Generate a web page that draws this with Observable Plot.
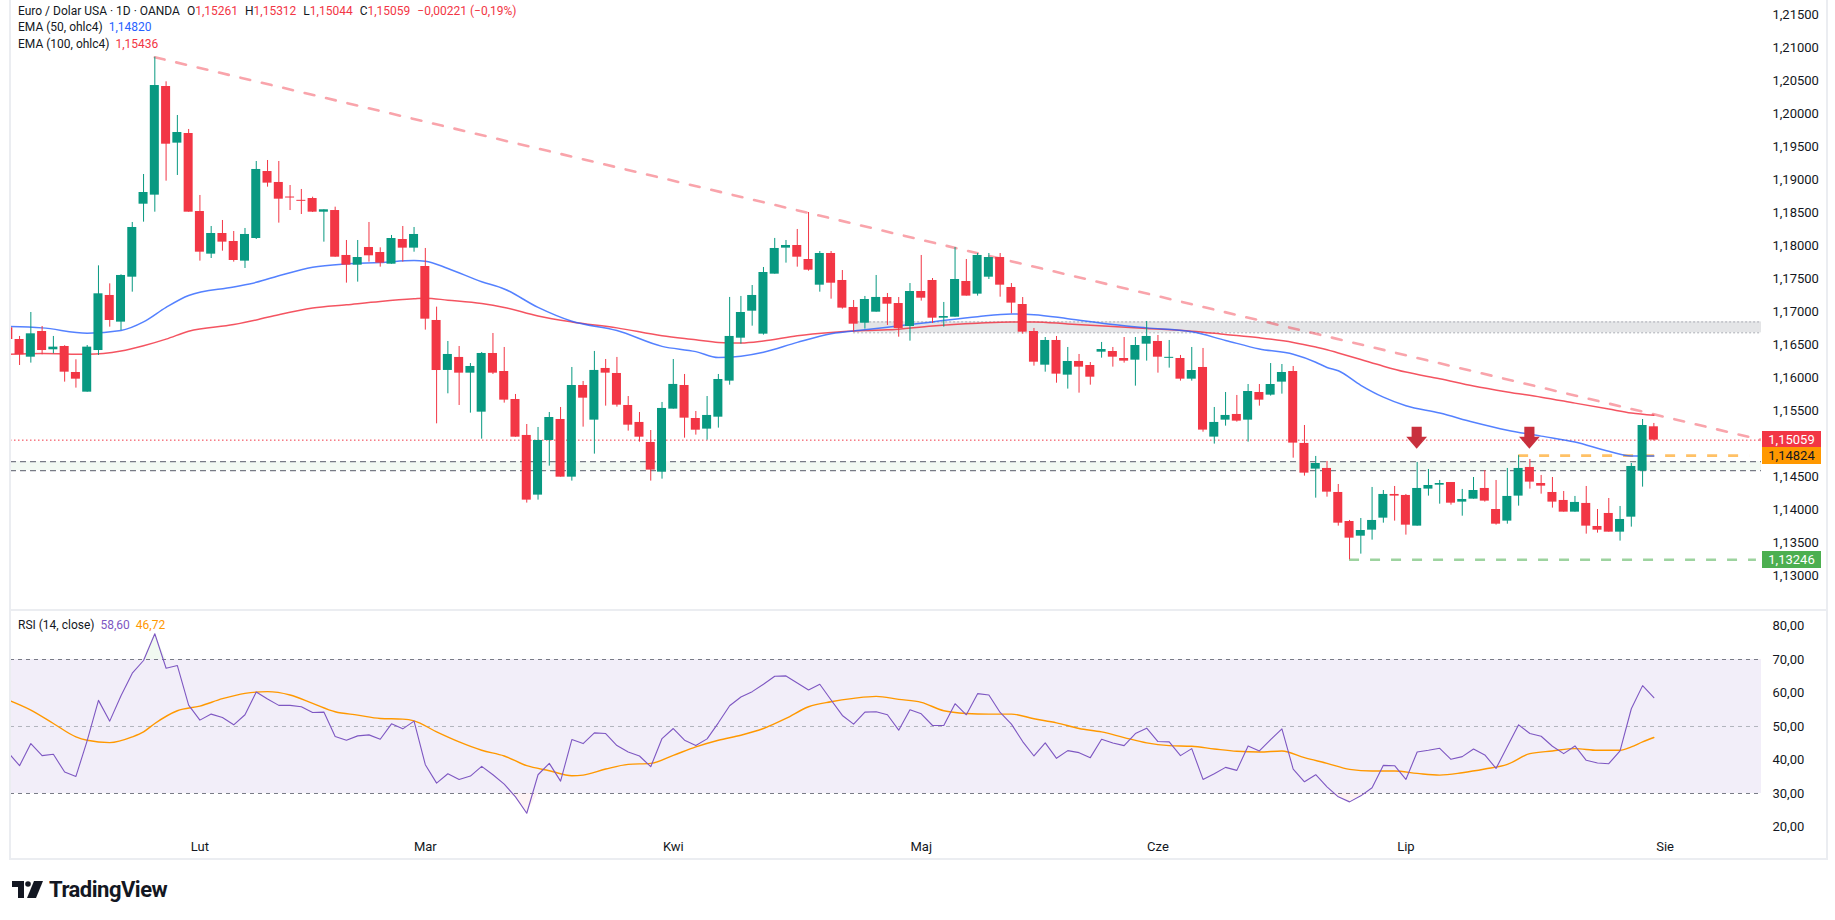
<!DOCTYPE html>
<html>
<head>
<meta charset="utf-8">
<script src="https://cdn.jsdelivr.net/npm/d3@7"></script>
<script src="https://cdn.jsdelivr.net/npm/@observablehq/plot@0.6"></script>
<style>
  body { margin: 0; background: #fff; font-family: Roboto, "Noto Sans", sans-serif; color: #131722; }
  #root { position: relative; width: 1835px; height: 920px; overflow: hidden; background: #fff; }
  #root svg { position: absolute; left: 0; }
  .line { position: absolute; left: 18px; font-size: 12px; line-height: 16px; white-space: nowrap; color: #131722; }
  .tag { position: absolute; left: 1762px; width: 59px; height: 17px; line-height: 17px; font-size: 13px; text-align: center; }
  .frame { position: absolute; background: #ebedf1; }
  .logo { position: absolute; left: 12px; top: 877px; display: flex; align-items: center; }
  .logo b { font-size: 22px; font-weight: 700; letter-spacing: -0.5px; margin-left: 5px; color: #131722; }
</style>
</head>
<body>
<div id="root"></div>
<script>
// ---------- DATA ----------
// daily candles, bar index 1..147
const opens = [
1.16761,1.16584,1.16316,1.16705,1.16428,1.16478,1.16084,1.15786,1.16417,1.17251,
1.16847,1.17528,1.18634,1.18771,1.20417,1.19559,1.19705,1.18523,1.17877,1.18190,
1.18069,1.17771,1.18114,1.19129,1.18963,1.18740,1.18690,1.18720,1.18513,1.18538,
1.17857,1.17710,1.17978,1.17902,1.17725,1.18099,1.17968,1.17690,1.16872,1.16115,
1.16312,1.16074,1.15483,1.16372,1.16099,1.15675,1.15130,1.14226,1.15054,1.15372,
1.14498,1.15887,1.15362,1.16145,1.16069,1.15584,1.15327,1.15024,1.14574,1.15529,
1.15887,1.15387,1.15226,1.15407,1.15953,1.16604,1.17013,1.16665,1.17574,1.17968,
1.18008,1.17796,1.17407,1.17887,1.17478,1.17069,1.16831,1.16998,1.17220,1.17129,
1.16781,1.17311,1.17478,1.16907,1.16922,1.17463,1.17271,1.17528,1.17826,1.17372,
1.17114,1.16705,1.16195,1.16569,1.16044,1.16251,1.16190,1.16392,1.16402,1.16296,
1.16271,1.16513,1.16554,1.16301,1.16296,1.15983,1.16160,1.15105,1.15362,1.15448,
1.15362,1.15781,1.15741,1.15938,1.16099,1.15009,1.14620,1.14630,1.14266,1.13826,
1.13604,1.13695,1.13877,1.14236,1.14221,1.13756,1.14317,1.14377,1.14417,1.14120,
1.14165,1.14327,1.14008,1.13832,1.14211,1.14645,1.14402,1.14266,1.14145,1.13968,
1.14100,1.13751,1.13948,1.13665,1.13892,1.14589,1.15261];
const highs = [
1.16796,1.16630,1.16993,1.16781,1.16630,1.16490,1.16276,1.16493,1.17700,1.17427,
1.17564,1.18357,1.19084,1.20861,1.20488,1.19978,1.19766,1.18766,1.18296,1.18387,
1.18220,1.18266,1.19281,1.19296,1.19281,1.18917,1.18857,1.18740,1.18549,1.18589,
1.18084,1.18084,1.18357,1.17973,1.18160,1.18296,1.18281,1.17963,1.17074,1.16554,
1.16478,1.16220,1.16387,1.16675,1.16463,1.15751,1.15296,1.15251,1.15478,1.15554,
1.16160,1.15948,1.16403,1.16281,1.16312,1.15720,1.15478,1.15205,1.15630,1.16281,
1.16054,1.15493,1.15720,1.16054,1.17221,1.17236,1.17402,1.17675,1.18115,1.18084,
1.18251,1.18508,1.17917,1.17917,1.17629,1.17175,1.17236,1.17554,1.17281,1.17220,
1.17432,1.17857,1.17508,1.17145,1.17978,1.17796,1.17887,1.17887,1.17887,1.17432,
1.17220,1.16751,1.16614,1.16630,1.16463,1.16357,1.16235,1.16539,1.16463,1.16614,
1.16614,1.16857,1.16645,1.16569,1.16342,1.16463,1.16448,1.15554,1.15781,1.15736,
1.15902,1.15902,1.16220,1.16205,1.16175,1.15281,1.14812,1.14736,1.14387,1.13842,
1.13872,1.14342,1.14296,1.14357,1.14236,1.14721,1.14614,1.14448,1.14417,1.14312,
1.14493,1.14599,1.14448,1.14630,1.14824,1.14766,1.14524,1.14493,1.14281,1.14206,
1.14357,1.14008,1.14175,1.14054,1.14705,1.15372,1.15312];
const lows = [
1.16544,1.16190,1.16226,1.16352,1.16367,1.15938,1.15847,1.15786,1.16342,1.16771,
1.16720,1.17301,1.18362,1.18513,1.18983,1.19069,1.18513,1.17771,1.17811,1.17922,
1.17756,1.17660,1.18099,1.18892,1.18347,1.18538,1.18478,1.18508,1.18059,1.17831,
1.17438,1.17453,1.17756,1.17680,1.17725,1.17756,1.17907,1.16726,1.15306,1.15761,
1.15584,1.15468,1.15074,1.16054,1.15620,1.15104,1.14105,1.14150,1.14665,1.14498,
1.14438,1.15256,1.14847,1.15574,1.15559,1.15195,1.15029,1.14438,1.14468,1.15529,
1.15089,1.15135,1.15059,1.15241,1.15892,1.16513,1.16786,1.16650,1.17574,1.17741,
1.17680,1.17619,1.17301,1.17195,1.17044,1.16695,1.16741,1.16998,1.16796,1.16619,
1.16559,1.17165,1.16826,1.16771,1.16922,1.17241,1.17241,1.17493,1.17225,1.16973,
1.16665,1.16180,1.16089,1.15922,1.15832,1.15771,1.15892,1.16301,1.16165,1.16226,
1.15877,1.16256,1.16074,1.16150,1.15953,1.15953,1.15180,1.14999,1.15271,1.15332,
1.15029,1.15574,1.15726,1.15756,1.14786,1.14514,1.14180,1.14195,1.13756,1.13246,
1.13332,1.13544,1.13801,1.13832,1.13620,1.13756,1.14211,1.14089,1.14074,1.13907,
1.14165,1.14120,1.13771,1.13786,1.14059,1.14317,1.14241,1.14029,1.13968,1.13968,
1.13635,1.13650,1.13665,1.13529,1.13741,1.14347,1.15044];
const closes = [
1.16584,1.16352,1.16670,1.16417,1.16468,1.16089,1.15983,1.16468,1.17276,1.16872,
1.17554,1.18281,1.18811,1.20432,1.19543,1.19720,1.18513,1.17907,1.18190,1.18059,
1.17781,1.18175,1.19160,1.18953,1.18710,1.18730,1.18680,1.18513,1.18549,1.17831,
1.17710,1.17826,1.17852,1.17741,1.18114,1.17968,1.18175,1.16892,1.16114,1.16357,
1.16074,1.16175,1.16372,1.16074,1.15665,1.15104,1.14150,1.15054,1.15402,1.14498,
1.15887,1.15695,1.16115,1.16074,1.15589,1.15286,1.15104,1.14605,1.15539,1.15903,
1.15392,1.15210,1.15433,1.15978,1.16630,1.16993,1.17251,1.17599,1.17963,1.18008,
1.17831,1.17634,1.17887,1.17437,1.17059,1.16816,1.17190,1.17221,1.17119,1.16751,
1.17311,1.17210,1.16907,1.16932,1.17493,1.17241,1.17857,1.17826,1.17407,1.17135,
1.16695,1.16240,1.16569,1.16059,1.16251,1.16165,1.16013,1.16432,1.16316,1.16256,
1.16493,1.16630,1.16316,1.16311,1.15983,1.16114,1.15211,1.15327,1.15433,1.15347,
1.15796,1.15665,1.15902,1.16084,1.15014,1.14559,1.14705,1.14271,1.13801,1.13574,
1.13690,1.13842,1.14236,1.14211,1.13771,1.14327,1.14372,1.14402,1.14104,1.14160,
1.14296,1.14135,1.13786,1.14206,1.14630,1.14423,1.14362,1.14120,1.13968,1.14115,
1.13756,1.13695,1.13665,1.13857,1.14660,1.15281,1.15059];
const changeText = "−0,00221 (−0,19%)";

// EMA 50 / EMA 100 (ohlc4)
const emaBars = [1,4,8,11,13,15,17,21,23,25,28,31,34,37,38,40,43,45,48,51,55,59,62,64,66,68,71,74,77,79,83,87,90,92,95,99,102,106,109,112,115,117,118,119,121,123,125,128,131,134,137,140,143,145,147];
const ema50Vals = [1.1678,1.1676,1.1668,1.1672,1.1685,1.1707,1.1725,1.1738,1.1745,1.1755,1.1768,1.1773,1.1775,1.1778,1.1777,1.1766,1.1746,1.1735,1.1707,1.1686,1.1672,1.1648,1.1640,1.1631,1.1633,1.1639,1.1654,1.1667,1.1673,1.1677,1.1685,1.1693,1.1697,1.1696,1.1690,1.1681,1.1676,1.1670,1.1657,1.1644,1.1636,1.1624,1.1616,1.1611,1.1589,1.1571,1.1558,1.1547,1.1533,1.1521,1.1512,1.1503,1.1489,1.1482,1.1482];
const ema100Vals = [1.1636,1.1637,1.1636,1.1641,1.1649,1.1659,1.1671,1.1681,1.1688,1.1696,1.1706,1.1711,1.1716,1.1720,1.1721,1.1718,1.1713,1.1707,1.1694,1.1685,1.1676,1.1664,1.1658,1.1654,1.1653,1.1656,1.1664,1.1669,1.1672,1.1673,1.1679,1.1683,1.1685,1.1685,1.1682,1.1678,1.1675,1.1671,1.1666,1.1661,1.1654,1.1647,1.1643,1.1638,1.1628,1.1618,1.1609,1.1599,1.1588,1.1579,1.1571,1.1562,1.1553,1.1547,1.15436];
const ema50Last = 1.14820, ema100Last = 1.15436;

// RSI (14, close), one value per bar
const rsiVals = [
42.2,38.3,44.9,41.3,41.7,36.4,35.1,45.8,57.8,51.6,
59.2,65.9,69.7,77.7,67.4,68.2,56.4,51.9,53.7,52.7,
50.5,53.5,60.3,58.2,56.3,56.3,55.9,54.2,54.3,47.0,
45.9,47.2,47.5,46.2,50.8,49.3,51.6,38.6,33.1,35.9,
34.2,35.2,38.1,35.6,32.8,29.0,24.1,35.6,39.0,33.7,
46.1,44.9,48.1,47.9,44.3,42.4,41.2,38.0,46.4,49.4,
45.9,44.3,46.3,51.1,56.2,58.8,60.4,62.6,65.0,65.1,
63.0,60.9,62.6,57.9,53.3,50.7,54.3,54.4,53.5,48.9,
55.0,53.8,50.3,50.3,56.8,53.5,59.8,59.4,54.2,50.7,
45.5,41.2,45.1,40.5,42.8,42.2,40.7,46.2,45.1,44.3,
47.9,49.5,45.5,45.4,41.3,43.4,34.2,35.9,37.8,36.9,
44.2,42.7,46.1,49.3,37.3,33.5,35.6,32.0,29.0,27.5,
29.3,31.7,38.4,38.3,34.2,42.4,42.9,43.5,40.2,41.0,
43.3,41.5,37.5,44.0,50.5,47.9,47.1,44.1,41.9,44.2,
39.9,39.1,38.9,42.7,55.3,62.2,58.6];
// RSI moving average, sampled
const rsiMaBars = [1,3,5,7,8,10,12,13,14,16,18,20,22,24,26,28,30,32,34,36,37,39,41,43,45,47,49,51,52,54,56,58,60,62,64,66,68,70,72,74,76,78,80,82,84,86,88,90,92,94,96,98,100,102,104,106,108,110,112,114,116,118,120,122,124,126,128,130,132,134,136,138,140,142,144,145,146,147];
const rsiMaVals = [57.9,54.9,50.9,46.9,45.9,45.2,46.9,48.4,50.9,54.7,56.1,58.3,59.9,60.4,59.4,56.9,54.4,53.4,52.4,52.2,51.7,48.4,45.4,42.9,41.2,38.3,36.8,35.3,35.5,37.3,38.7,39.0,41.4,43.9,45.9,47.4,49.4,52.4,55.9,57.4,58.4,59.0,58.1,57.2,54.7,53.9,53.7,53.7,52.3,51.1,49.4,48.4,46.7,45.1,44.3,44.1,43.3,42.6,42.4,42.7,40.7,39.0,37.2,36.7,36.7,36.0,35.5,36.2,37.3,38.7,41.9,42.7,43.4,42.9,42.9,43.9,45.4,46.72];

// annotations
const trendBars = [14, 156.6];
const trendVals = [1.2086, 1.1506];
const resistanceZone = [1.16685, 1.16850];
const resistanceStart = 76;
const supportBand = [1.14597, 1.14733];
const lastClose = 1.15059;
const orangeLevel = 1.14824, orangeBars = [135, 155.5];
const greenLevel = 1.13246, greenBars = [120, 156.1];
const arrowBars = [126, 136];
const arrowTips = [1.14921, 1.14921];

// axes
const priceTicks = [1.13,1.135,1.14,1.145,1.155,1.16,1.165,1.17,1.175,1.18,1.185,1.19,1.195,1.2,1.205,1.21,1.215];
const rsiTicks = [20,30,40,50,60,70,80];
const monthTicks = [18,38,60,82,103,125,148];
const monthLabels = ["Lut","Mar","Kwi","Maj","Cze","Lip","Sie"];

// ---------- DRAWING ----------
const root = document.getElementById("root");
const UP = "#089981", DN = "#f23645";
const fmt = (v, d) => v.toFixed(d).replace(".", ",");
const X0 = 1.1952, X1 = 156.55;
const Y0 = 1.124627, Y1 = 1.217202;
const PH = 611;
const ppx = (Y1 - Y0) / PH;
const AXF = 13;

const candles = opens.map((o, k) => {
  const c = closes[k];
  let b1 = Math.min(o, c), b2 = Math.max(o, c);
  if (b2 - b1 < ppx) { const m = (b1 + b2) / 2; b1 = m - ppx / 2; b2 = m + ppx / 2; }
  return {i: k + 1, o, h: highs[k], l: lows[k], c, b1, b2, up: c >= o};
});
const ups = candles.filter(d => d.up), dns = candles.filter(d => !d.up);
const ema50 = emaBars.map((b, k) => ({b, v: ema50Vals[k]}));
const ema100 = emaBars.map((b, k) => ({b, v: ema100Vals[k]}));
const trend = trendBars.map((b, k) => ({b, v: trendVals[k]}));
const arrows = arrowBars.map((b, k) => ({b, tip: arrowTips[k]}));
const heads = arrows.flatMap((d, k) => {
  const top = d.tip + 12 * ppx;
  return [{id: k, x: d.b - 0.92, y1: top, y2: top}, {id: k, x: d.b, y1: top, y2: d.tip}, {id: k, x: d.b + 0.92, y1: top, y2: top}];
});
const ARW = "#c9303d";

const price = Plot.plot({
  width: 1835, height: PH,
  marginLeft: 10, marginRight: 74, marginTop: 0, marginBottom: 0,
  x: {type: "linear", domain: [X0, X1], axis: null},
  y: {domain: [Y0, Y1], axis: null},
  style: {background: "transparent", fontFamily: "Roboto, sans-serif", fontSize: AXF + "px", color: "#131722"},
  marks: [
    Plot.rect([supportBand], {x1: () => X0, x2: () => X1, y1: d => d[0], y2: d => d[1], fill: "#4caf50", fillOpacity: 0.07}),
    Plot.ruleY(supportBand, {x1: () => X0, x2: () => X1, stroke: "#787b86", strokeWidth: 1.3, strokeDasharray: "6,4"}),
    Plot.rect([resistanceZone], {x1: () => resistanceStart, x2: () => X1, y1: d => d[0], y2: d => d[1], fill: "#787b86", fillOpacity: 0.2}),
    Plot.ruleY(resistanceZone, {x1: () => resistanceStart, x2: () => X1, stroke: "#a9abb3", strokeWidth: 1, strokeDasharray: "2,2"}),
    Plot.ruleY([lastClose], {x1: () => X0, x2: () => X1, stroke: DN, strokeWidth: 1, strokeDasharray: "1.5,2.5"}),
    Plot.line(trend, {x: "b", y: "v", stroke: DN, strokeOpacity: 0.45, strokeWidth: 2.6, strokeDasharray: "10,12", clip: true}),
    Plot.ruleY([orangeLevel], {x1: () => orangeBars[0], x2: () => orangeBars[1], stroke: "#ff9800", strokeOpacity: 0.6, strokeWidth: 2.6, strokeDasharray: "10,11"}),
    Plot.ruleY([greenLevel], {x1: () => greenBars[0], x2: () => greenBars[1], stroke: "#4caf50", strokeOpacity: 0.55, strokeWidth: 2.6, strokeDasharray: "10,11"}),
    Plot.line(ema100, {x: "b", y: "v", stroke: "#f23645", strokeOpacity: 0.85, strokeWidth: 1.5, curve: "monotone-x", clip: true}),
    Plot.line(ema50, {x: "b", y: "v", stroke: "#2962ff", strokeOpacity: 0.8, strokeWidth: 1.5, curve: "monotone-x", clip: true}),
    Plot.ruleX(ups, {x: "i", y1: "l", y2: "h", stroke: UP, strokeWidth: 1, clip: true}),
    Plot.ruleX(dns, {x: "i", y1: "l", y2: "h", stroke: DN, strokeWidth: 1, clip: true}),
    Plot.rect(ups, {x1: d => d.i - 0.4, x2: d => d.i + 0.4, y1: "b1", y2: "b2", fill: UP, clip: true}),
    Plot.rect(dns, {x1: d => d.i - 0.4, x2: d => d.i + 0.4, y1: "b1", y2: "b2", fill: DN, clip: true}),
    Plot.rect(arrows, {x1: d => d.b - 0.45, x2: d => d.b + 0.45, y1: d => d.tip + 11.5 * ppx, y2: d => d.tip + 22 * ppx, fill: ARW}),
    Plot.area(heads, {x1: "x", y1: "y1", y2: "y2", z: "id", fill: ARW}),
    Plot.axisY({anchor: "right", ticks: priceTicks, tickSize: 0, tickPadding: 11, tickFormat: v => fmt(v, 5), label: null, fontSize: AXF, fill: "#131722"})
  ]
});
price.style.top = "0px";
root.appendChild(price);

// RSI pane
const RH = 250;
const rsi = rsiVals.map((v, k) => ({b: k + 1, v}));
const rsiMa = rsiMaBars.map((b, k) => ({b, v: rsiMaVals[k]}));
const rsiPlot = Plot.plot({
  width: 1835, height: RH,
  marginLeft: 10, marginRight: 74, marginTop: 0, marginBottom: 30,
  x: {type: "linear", domain: [X0, X1], axis: null},
  y: {domain: [18.955, 84.627], axis: null},
  style: {background: "transparent", fontFamily: "Roboto, sans-serif", fontSize: AXF + "px", color: "#131722"},
  marks: [
    Plot.rect([[30, 70]], {x1: () => X0, x2: () => X1, y1: d => d[0], y2: d => d[1], fill: "#7e57c2", fillOpacity: 0.1}),
    Plot.ruleY([70, 30], {x1: () => X0, x2: () => X1, stroke: "#787b86", strokeWidth: 1, strokeDasharray: "4,4"}),
    Plot.ruleY([50], {x1: () => X0, x2: () => X1, stroke: "#b2b5be", strokeWidth: 1, strokeDasharray: "4,4"}),
    Plot.area(rsi, {x1: "b", y1: () => 70, y2: d => Math.max(d.v, 70), fill: "#4caf50", fillOpacity: 0.08, clip: true}),
    Plot.area(rsi, {x1: "b", y1: () => 30, y2: d => Math.min(d.v, 30), fill: "#f23645", fillOpacity: 0.06, clip: true}),
    Plot.line(rsiMa, {x: "b", y: "v", stroke: "#ff9800", strokeWidth: 1.4, curve: "monotone-x", clip: true}),
    Plot.line(rsi, {x: "b", y: "v", stroke: "#7e57c2", strokeWidth: 1.1, clip: true}),
    Plot.axisY({anchor: "right", ticks: rsiTicks, tickSize: 0, tickPadding: 11, tickFormat: v => fmt(v, 2), label: null, fontSize: AXF, fill: "#131722"}),
    Plot.axisX({anchor: "bottom", ticks: monthTicks, tickSize: 0, tickPadding: 11, tickFormat: d => monthLabels[monthTicks.indexOf(d)], label: null, fontSize: AXF, fill: "#131722"})
  ]
});
rsiPlot.style.top = "610px";
root.appendChild(rsiPlot);

// price tags on the scale
const ys = price.scale("y");
[{v: lastClose, bg: "#f23645", fg: "#ffffff"}, {v: orangeLevel, bg: "#ff9800", fg: "#131722"}, {v: greenLevel, bg: "#4caf50", fg: "#ffffff"}]
  .forEach(t => {
    const el = document.createElement("div");
    el.className = "tag";
    el.style.top = (ys.apply(t.v) - 8.5) + "px";
    el.style.background = t.bg;
    el.style.color = t.fg;
    el.textContent = fmt(t.v, 5);
    root.appendChild(el);
  });

// frame lines
[[9, 0, 2, 860], [9, 609, 1819, 2], [9, 858, 1819, 2], [1826, 0, 2, 860]].forEach(([l, t, w, h]) => {
  const el = document.createElement("div");
  el.className = "frame";
  Object.assign(el.style, {left: l + "px", top: t + "px", width: w + "px", height: h + "px"});
  root.appendChild(el);
});

// legends
function legendLine(top, parts) {
  const el = document.createElement("div");
  el.className = "line";
  el.style.top = top + "px";
  parts.forEach(([txt, col, gap]) => {
    const s = document.createElement("span");
    s.textContent = txt;
    s.style.color = col;
    s.style.marginLeft = gap + "px";
    el.appendChild(s);
  });
  root.appendChild(el);
}
const K = "#131722";
const L = opens.length - 1;
legendLine(3, [["Euro / Dolar USA · 1D · OANDA", K, 0], ["O", K, 7], [fmt(opens[L], 5), DN, 0], ["H", K, 7], [fmt(highs[L], 5), DN, 0],
  ["L", K, 7], [fmt(lows[L], 5), DN, 0], ["C", K, 7], [fmt(closes[L], 5), DN, 0], [changeText, DN, 7]]);
legendLine(19, [["EMA (50, ohlc4)", K, 0], [fmt(ema50Last, 5), "#2962ff", 6]]);
legendLine(36, [["EMA (100, ohlc4)", K, 0], [fmt(ema100Last, 5), DN, 6]]);
legendLine(617, [["RSI (14, close)", K, 0], [fmt(rsiVals[rsiVals.length - 1], 2), "#7e57c2", 6], [fmt(rsiMaVals[rsiMaVals.length - 1], 2), "#ff9800", 6]]);

// TradingView logo
const logo = document.createElement("div");
logo.className = "logo";
logo.innerHTML = '<svg width="32" height="19" viewBox="0 0 32 19" style="position:static"><path d="M0 1H12V18H6V7H0Z" fill="#131722"/><circle cx="16" cy="4" r="2.8" fill="#131722"/><path d="M22 1H31L24 18H15Z" fill="#131722"/></svg><b>TradingView</b>';
root.appendChild(logo);
</script>
</body>
</html>
